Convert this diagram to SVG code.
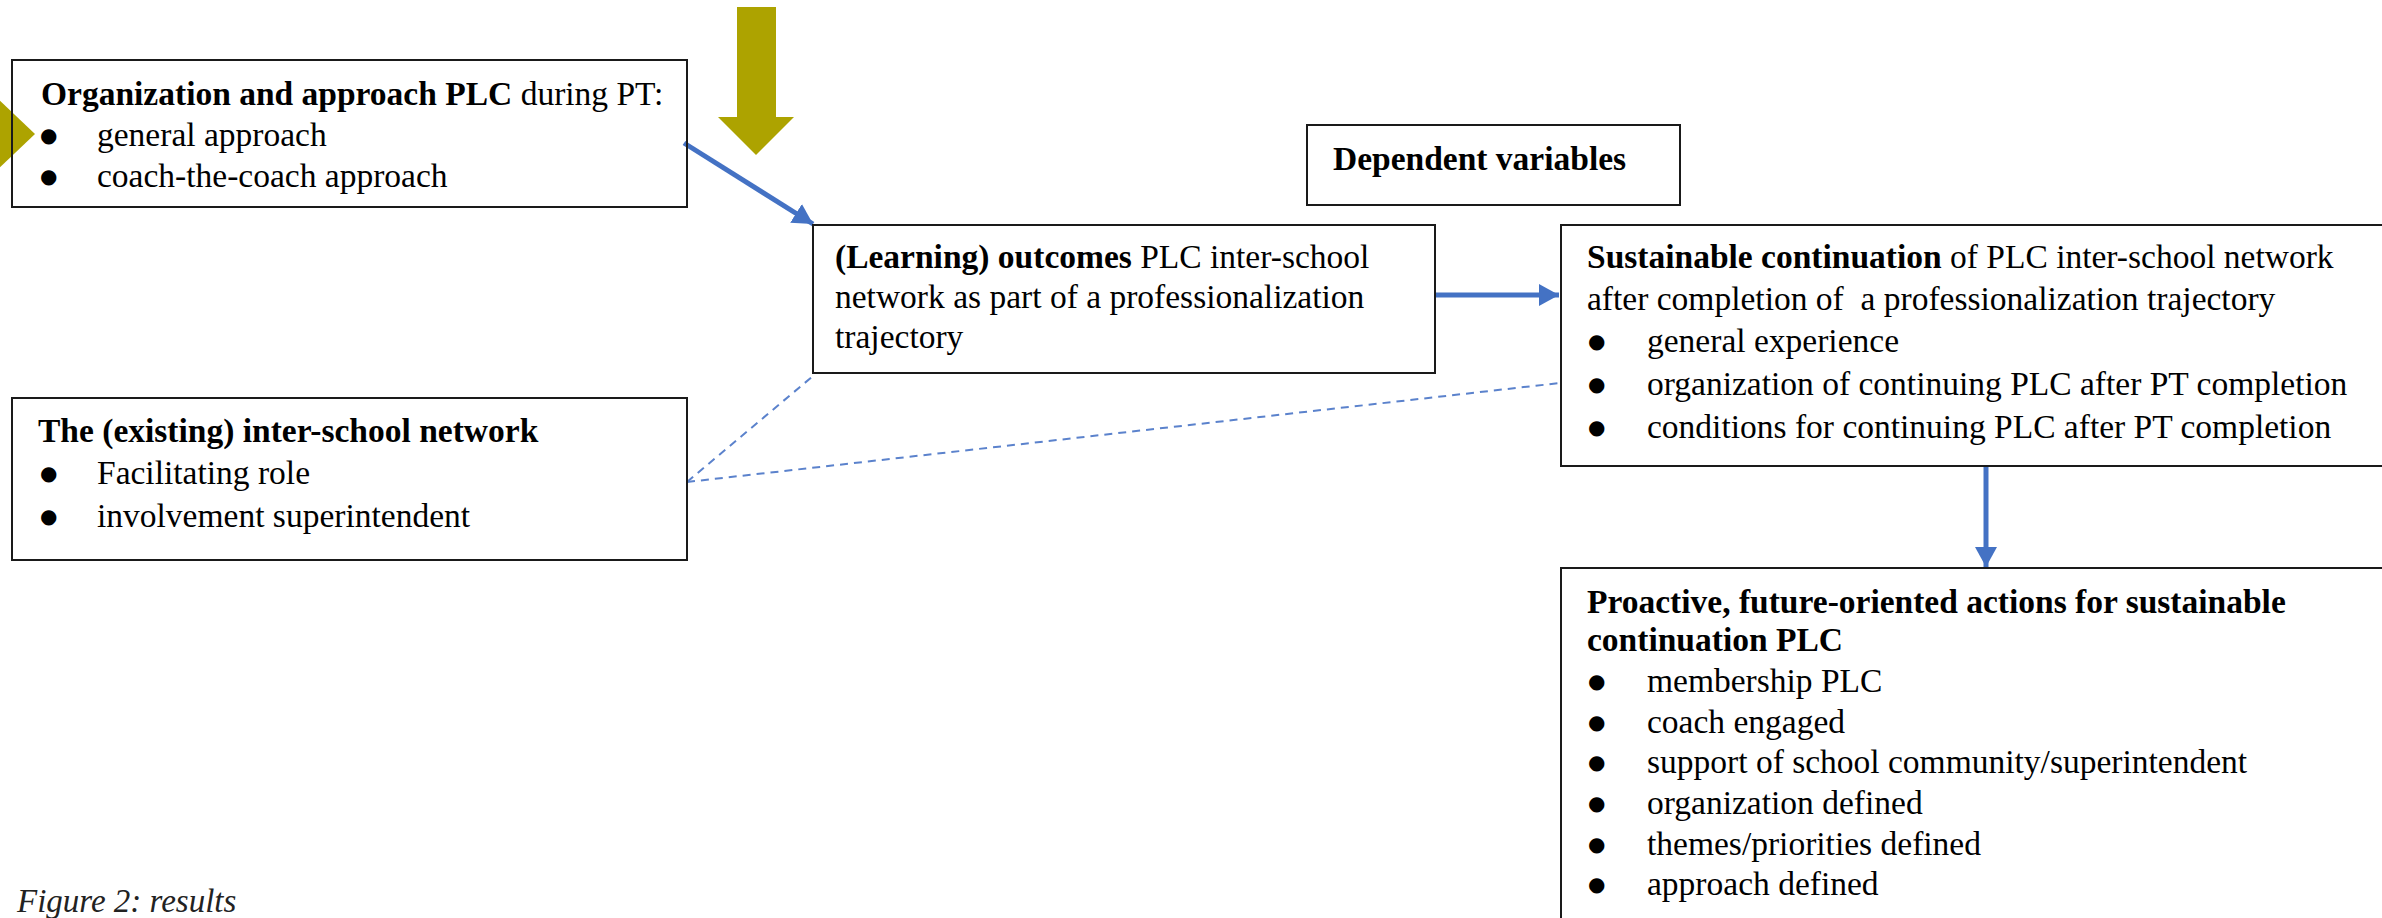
<svg xmlns="http://www.w3.org/2000/svg" width="2382" height="918" viewBox="0 0 2382 918">
<style>
.box{fill:none;stroke:#1a1a1a;stroke-width:2}
.t{font-family:"Liberation Serif","Times New Roman",serif;font-size:33.5px;fill:#000}
.b{font-weight:bold}
.bul{font-family:"DejaVu Sans",sans-serif;font-size:20px;fill:#000}
.conn{stroke:#4472C4;stroke-width:5;fill:none}
.dash{stroke:#5B82CC;stroke-width:2;fill:none;stroke-dasharray:8 6}
.olive{fill:#ADA300}
.cap{font-family:"Liberation Serif","Times New Roman",serif;font-size:33px;font-style:italic;fill:#222}
</style>
<defs>
<marker id="ah" markerUnits="userSpaceOnUse" markerWidth="24" markerHeight="24" refX="20" refY="11" orient="auto">
<path d="M0,0 L20,11 L0,22 Z" fill="#4472C4"/>
</marker>
</defs>
<rect width="2382" height="918" fill="#fff"/>
<g id="olive-arrows">
<polygon class="olive" points="737,7 776,7 776,117 794,117 756,155 718,117 737,117"/>
<polygon class="olive" points="-3,98 35,134 -3,170"/>
</g>
<g id="connectors">
<line class="conn" x1="684" y1="143" x2="813" y2="224" marker-end="url(#ah)"/>
<line class="conn" x1="1435" y1="295" x2="1559" y2="295" marker-end="url(#ah)"/>
<line class="conn" x1="1986" y1="467" x2="1986" y2="567" marker-end="url(#ah)"/>
<line class="dash" x1="687" y1="482" x2="813" y2="376"/>
<line class="dash" x1="687" y1="482" x2="1560" y2="383"/>
</g>
<g id="node-organization">
<rect class="box" x="12" y="60" width="675" height="147"/>
<text class="t" x="41" y="105"><tspan class="b">Organization and approach PLC</tspan> during PT:</text>
<text class="bul" x="40" y="142">●</text><text class="t" x="97" y="146">general approach</text>
<text class="bul" x="40" y="183">●</text><text class="t" x="97" y="187">coach-the-coach approach</text>
</g>
<g id="node-network">
<rect class="box" x="12" y="398" width="675" height="162"/>
<text class="t b" x="38" y="442">The (existing) inter-school network</text>
<text class="bul" x="40" y="480">●</text><text class="t" x="97" y="484">Facilitating role</text>
<text class="bul" x="40" y="523">●</text><text class="t" x="97" y="527">involvement superintendent</text>
</g>
<g id="node-outcomes">
<rect class="box" x="813" y="225" width="622" height="148"/>
<text class="t" x="835" y="268"><tspan class="b">(Learning) outcomes</tspan> PLC inter-school</text>
<text class="t" x="835" y="308">network as part of a professionalization</text>
<text class="t" x="835" y="348">trajectory</text>
</g>
<g id="node-dependent">
<rect class="box" x="1307" y="125" width="373" height="80"/>
<text class="t b" x="1333" y="170">Dependent variables</text>
</g>
<g id="node-sustainable">
<rect class="box" x="1561" y="225" width="840" height="241"/>
<text class="t" x="1587" y="268"><tspan class="b">Sustainable continuation</tspan> of PLC inter-school network</text>
<text class="t" x="1587" y="310" xml:space="preserve">after completion of  a professionalization trajectory</text>
<text class="bul" x="1588" y="348">●</text><text class="t" x="1647" y="352">general experience</text>
<text class="bul" x="1588" y="391">●</text><text class="t" x="1647" y="395">organization of continuing PLC after PT completion</text>
<text class="bul" x="1588" y="434">●</text><text class="t" x="1647" y="438">conditions for continuing PLC after PT completion</text>
</g>
<g id="node-proactive">
<rect class="box" x="1561" y="568" width="840" height="380"/>
<text class="t b" x="1587" y="613">Proactive, future-oriented actions for sustainable</text>
<text class="t b" x="1587" y="651">continuation PLC</text>
<text class="bul" x="1588" y="688">●</text><text class="t" x="1647" y="692">membership PLC</text>
<text class="bul" x="1588" y="729">●</text><text class="t" x="1647" y="733">coach engaged</text>
<text class="bul" x="1588" y="769">●</text><text class="t" x="1647" y="773">support of school community/superintendent</text>
<text class="bul" x="1588" y="810">●</text><text class="t" x="1647" y="814">organization defined</text>
<text class="bul" x="1588" y="851">●</text><text class="t" x="1647" y="855">themes/priorities defined</text>
<text class="bul" x="1588" y="891">●</text><text class="t" x="1647" y="895">approach defined</text>
</g>
<text class="cap" x="17" y="912">Figure 2: results</text>
</svg>
